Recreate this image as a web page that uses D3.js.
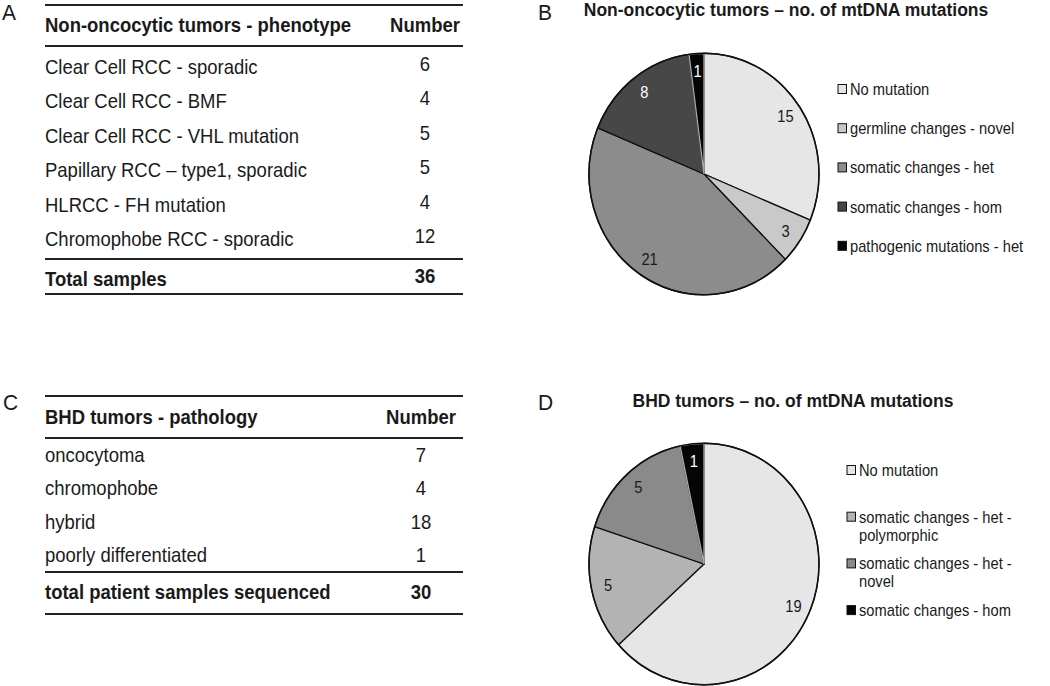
<!DOCTYPE html>
<html>
<head>
<meta charset="utf-8">
<script src="https://cdn.jsdelivr.net/npm/d3@7/dist/d3.min.js"></script>
<style>
  html, body { margin: 0; padding: 0; background: #fff; }
  svg { display: block; font-family: "Liberation Sans", Arial, sans-serif; }
</style>
</head>
<body>
<svg id="chart" width="1050" height="686"></svg>
<script>
// ---------- DATA ----------
const tableAHeader = ["Non-oncocytic tumors - phenotype", "Number"];
const tableARows = ["Clear Cell RCC - sporadic", "Clear Cell RCC - BMF", "Clear Cell RCC - VHL mutation",
                    "Papillary RCC \u2013 type1, sporadic", "HLRCC - FH mutation", "Chromophobe RCC - sporadic"];
const tableAValues = [6, 4, 5, 5, 4, 12];
const tableATotalLabel = "Total samples";
const tableATotal = 36;

const tableCHeader = ["BHD tumors - pathology", "Number"];
const tableCRows = ["oncocytoma", "chromophobe", "hybrid", "poorly differentiated"];
const tableCValues = [7, 4, 18, 1];
const tableCTotalLabel = "total patient samples sequenced";
const tableCTotal = 30;

const pieBTitle = "Non-oncocytic tumors \u2013 no. of mtDNA mutations";
const pieBCategories = ["No mutation", "germline changes - novel", "somatic changes - het",
                        "somatic changes - hom", "pathogenic mutations - het"];
const pieBValues = [15, 3, 21, 8, 1];

const pieDTitle = "BHD tumors \u2013 no. of mtDNA mutations";
const pieDCategories = ["No mutation", "somatic changes - het - polymorphic", "somatic changes - het - novel",
                        "somatic changes - hom"];
const pieDLegendLines = [["No mutation"], ["somatic changes - het -", "polymorphic"],
                         ["somatic changes - het -", "novel"], ["somatic changes - hom"]];
const pieDValues = [19, 5, 5, 1];

const panelLetters = ["A", "B", "C", "D"];

// ---------- DRAW ----------
const svg = d3.select("#chart");
const ink = "#1a1a1a";

// panel letters
const letterPos = {A: [2, 20], B: [538, 20], C: [3, 410], D: [538, 410]};
svg.selectAll("text.letter").data(panelLetters).join("text")
  .attr("class", "letter")
  .attr("x", d => letterPos[d][0]).attr("y", d => letterPos[d][1])
  .attr("font-size", 21).attr("fill", ink).text(d => d);

function drawTable(g, header, rows, values, totalLabel, total, opt) {
  const xL = 45, xR = 463;
  const y = d3.scalePoint().domain(rows).range(opt.rowRange);
  const lineW = 2;
  [opt.top, opt.headLine, opt.totLine, opt.bottom].forEach(ly => {
    g.append("line").attr("x1", xL).attr("x2", xR).attr("y1", ly).attr("y2", ly)
      .attr("stroke", "#222").attr("stroke-width", lineW);
  });
  g.append("text").attr("x", xL).attr("y", opt.headY).attr("font-size", 18.5)
    .attr("font-weight", "bold").attr("fill", ink).text(header[0]);
  g.append("text").attr("x", opt.numX).attr("y", opt.headY).attr("font-size", 18.5)
    .attr("font-weight", "bold").attr("text-anchor", "middle").attr("fill", ink).text(header[1]);
  g.selectAll("text.rowlab").data(rows).join("text").attr("class", "rowlab")
    .attr("x", xL).attr("y", d => y(d)).attr("font-size", 18.5).attr("fill", ink).text(d => d);
  g.selectAll("text.rowval").data(values).join("text").attr("class", "rowval")
    .attr("x", opt.numX).attr("y", (d, i) => y(rows[i]) + opt.numDy).attr("font-size", 18.5)
    .attr("text-anchor", "middle").attr("fill", ink).text(d => d);
  g.append("text").attr("x", xL).attr("y", opt.totY).attr("font-size", 18.5)
    .attr("font-weight", "bold").attr("fill", ink).text(totalLabel);
  g.append("text").attr("x", opt.numX).attr("y", opt.totY + opt.numDy).attr("font-size", 18.5)
    .attr("font-weight", "bold").attr("text-anchor", "middle").attr("fill", ink).text(total);
}

drawTable(svg.append("g"), tableAHeader, tableARows, tableAValues, tableATotalLabel, tableATotal,
  {top: 5, headLine: 46, totLine: 259, bottom: 294, headY: 32, rowRange: [74, 246], totY: 286,
   numX: 425, numDy: -3});
drawTable(svg.append("g"), tableCHeader, tableCRows, tableCValues, tableCTotalLabel, tableCTotal,
  {top: 396, headLine: 438, totLine: 572, bottom: 614, headY: 424, rowRange: [462, 562], totY: 599,
   numX: 421, numDy: 0});

function drawPie(g, title, titleX, titleY, cats, values, colors, cx, cy, legend) {
  const rx = 115, sy = 1.05;
  g.append("text").attr("x", titleX).attr("y", titleY).attr("text-anchor", "middle")
    .attr("font-size", 17.5).attr("font-weight", "bold").attr("fill", ink).text(title);
  const color = d3.scaleOrdinal().domain(cats).range(colors);
  const pie = d3.pie().sort(null).value(d => d.v);
  const arcs = pie(values.map((v, i) => ({v, c: cats[i]})));
  const arc = d3.arc().innerRadius(0).outerRadius(rx);
  const labelArc = d3.arc().innerRadius(98).outerRadius(98);
  const pg = g.append("g").attr("transform", `translate(${cx},${cy}) scale(1,${sy})`);
  pg.selectAll("path").data(arcs).join("path")
    .attr("d", arc).attr("fill", d => color(d.data.c))
    .attr("stroke", d => d3.hsl(color(d.data.c)).l < 0.15 ? "#aaa" : "#111")
    .attr("stroke-width", 1.3).attr("vector-effect", "non-scaling-stroke");
  pg.append("ellipse").attr("rx", rx).attr("ry", rx).attr("fill", "none")
    .attr("stroke", "#111").attr("stroke-width", 1.5).attr("vector-effect", "non-scaling-stroke");
  g.selectAll("text.plab").data(arcs).join("text").attr("class", "plab")
    .attr("x", d => cx + labelArc.centroid(d)[0])
    .attr("y", d => cy + labelArc.centroid(d)[1] * sy)
    .attr("dy", "0.36em").attr("text-anchor", "middle").attr("font-size", 14.7)
    .attr("fill", d => d3.hsl(color(d.data.c)).l < 0.4 ? "#fff" : ink)
    .text(d => d.data.v);
  const lg = g.append("g");
  cats.forEach((c, i) => {
    const by = legend.y0 + i * legend.step;
    lg.append("rect").attr("x", legend.sx).attr("y", by - 10.5).attr("width", 8.5).attr("height", 9)
      .attr("fill", color(c)).attr("stroke", "#111").attr("stroke-width", 1);
    const lines = legend.lines ? legend.lines[i] : [c];
    lines.forEach((ln, j) => {
      lg.append("text").attr("x", legend.tx).attr("y", by + j * 18).attr("font-size", 14.7)
        .attr("fill", ink).text(ln);
    });
  });
}

drawPie(svg.append("g"), pieBTitle, 786, 16, pieBCategories, pieBValues,
  ["#e6e6e6", "#c9c9c9", "#8c8c8c", "#474747", "#050505"], 704, 174,
  {sx: 838, tx: 850, y0: 95, step: 39.2});
drawPie(svg.append("g"), pieDTitle, 793, 407, pieDCategories, pieDValues,
  ["#e6e6e6", "#b3b3b3", "#8a8a8a", "#050505"], 704, 564,
  {sx: 847, tx: 859, y0: 476, step: 46.7, lines: pieDLegendLines});

// the source figure is slightly stretched vertically; stretch glyphs to match
svg.selectAll("text").each(function () {
  const t = d3.select(this);
  const x = +t.attr("x"), y = +t.attr("y");
  t.attr("x", 0).attr("y", 0).attr("transform", `translate(${x},${y}) scale(1,1.07)`);
});
</script>
</body>
</html>
